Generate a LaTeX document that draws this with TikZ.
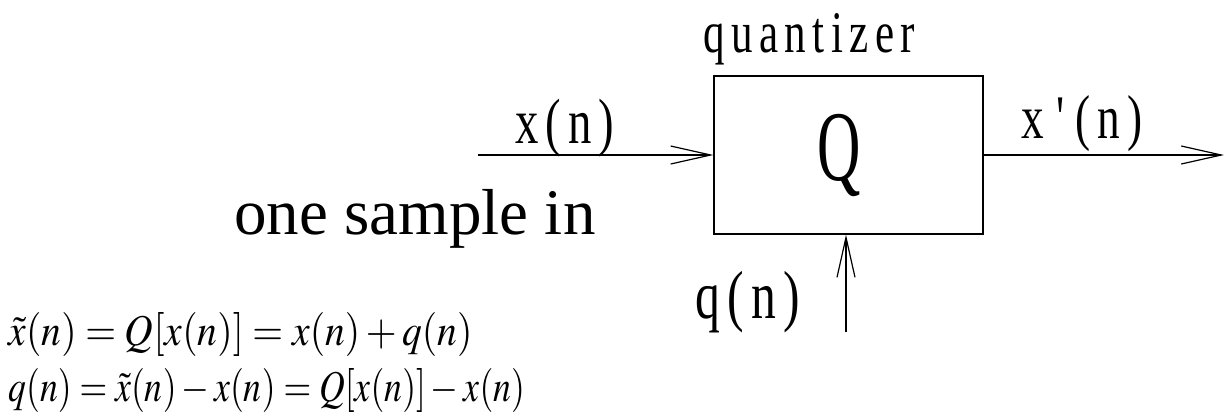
\documentclass[tikz,border=0pt]{standalone}
\usepackage{mathptmx}
\usepackage{fontspec}
\setmainfont{Liberation Serif}
\newfontfamily\lblfont[LetterSpace=15]{Liberation Serif}
\usetikzlibrary{arrows.meta}
\begin{document}
\begin{tikzpicture}[x=0.5pt, y=-0.5pt,
    sig/.style={draw, line width=0.6pt, -{Straight Barb[length=20pt, width=9pt, line width=0.6pt]}},
    lbl/.style={anchor=base, inner sep=0pt},
]
\useasboundingbox (0,0) rectangle (1225,414);

% Quantizer block
\node[draw, line width=0.6pt, minimum width=134.5pt, minimum height=79pt, inner sep=0pt] (quant) at (848.5,155) {\scalebox{0.6}[1]{\fontsize{50}{50}\selectfont Q}\kern9pt};
\node[lbl] (qname) at (809,52) {\scalebox{0.73}[1]{\lblfont\fontsize{29.5}{30}\selectfont quantizer}};

% Signals in and out
\coordinate (xin) at (478,155);
\coordinate (xout) at (1224,155);
\coordinate (qin) at (846,332);
\draw[sig] (xin) -- (quant.west);
\draw[sig] (quant.east) -- (xout);
\draw[sig] (qin) -- (qin |- quant.south);

\node[lbl] (xlbl) at (565,143) {\scalebox{0.73}[1]{\lblfont\fontsize{32}{32}\selectfont x(n)}};
\node[lbl] (xqlbl) at (1082,138) {\scalebox{0.73}[1]{\lblfont\fontsize{31}{31}\selectfont x\kern8pt'\kern8pt(n)}};
\node[lbl] (qlbl) at (748,318) {\scalebox{0.73}[1]{\lblfont\fontsize{34}{34}\selectfont q(n)}};
\node[lbl] (sample) at (415,234) {\fontsize{32.5}{32.5}\selectfont one sample in};

% Equations
\node[lbl, anchor=base west] (eq1) at (8,345) {\scalebox{0.9}[1]{\fontsize{22}{22}\selectfont $\tilde{x}(n)=Q[x(n)]=x(n)+q(n)$}};
\node[lbl, anchor=base west] (eq2) at (8,401) {\scalebox{0.81}[1]{\fontsize{22}{22}\selectfont $q(n)=\tilde{x}(n)-x(n)=Q[x(n)]-x(n)$}};
\end{tikzpicture}
\end{document}
